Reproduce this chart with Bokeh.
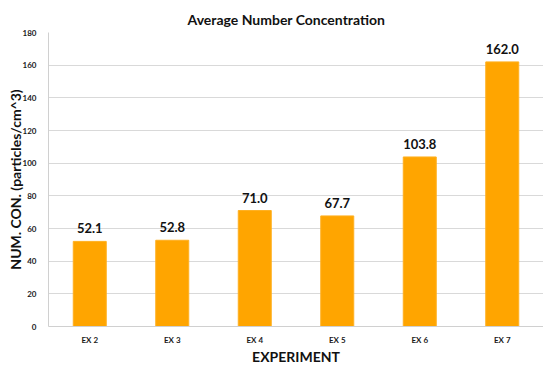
from bokeh.plotting import figure
from bokeh.models import ColumnDataSource, Range1d, FactorRange, LabelSet, SingleIntervalTicker
from bokeh.core.properties import value
from bokeh.embed import file_html
from bokeh.resources import INLINE

experiments = ["EX 2", "EX 3", "EX 4", "EX 5", "EX 6", "EX 7"]
concentration = [52.1, 52.8, 71.0, 67.7, 103.8, 162.0]
labels = ["52.1", "52.8", "71.0", "67.7", "103.8", "162.0"]

src = ColumnDataSource(dict(x=experiments, y=concentration, lab=labels))

FONT = "Lato"
p = figure(width=543, height=367, output_backend="svg", toolbar_location=None,
           x_range=FactorRange(*experiments, range_padding=0),
           y_range=Range1d(0, 180),
           min_border_left=48, min_border_right=0, min_border_top=32, min_border_bottom=0)

p.vbar(x="x", top="y", width=0.4, source=src, fill_color="#FFA500", line_color="#FFB020")
p.add_layout(LabelSet(x="x", y="y", text="lab", source=src, text_align="center",
                      text_baseline="bottom", y_offset=8, text_font=value(FONT),
                      text_font_style="bold", text_font_size="13px", text_color="#111111"))

p.title.text = "Average Number Concentration"
p.title.align = "left"
p.title.offset = 139
p.title.text_font = FONT
p.title.text_font_size = "14px"
p.title.text_font_style = "bold"
p.title.text_color = "#111111"

p.outline_line_color = None
p.xgrid.grid_line_color = None
p.ygrid.grid_line_color = "#d9d9d9"
p.yaxis.ticker = SingleIntervalTicker(interval=20)

for ax in (p.xaxis[0], p.yaxis[0]):
    ax.major_tick_line_color = None
    ax.minor_tick_line_color = None
    ax.axis_line_color = "#d0d0d0"
    ax.major_label_text_font = FONT
    ax.major_label_text_font_style = "bold"
    ax.major_label_text_font_size = "8px"
    ax.major_label_text_color = "#1a1a1a"
    ax.axis_label_text_font = FONT
    ax.axis_label_text_font_style = "bold"
    ax.axis_label_text_font_size = "14px"
    ax.axis_label_text_color = "#111111"

p.yaxis.major_label_standoff = 6
p.xaxis.major_label_standoff = 2
p.xaxis.axis_label = "EXPERIMENT"
p.yaxis.axis_label = "NUM. CON. (particles/cm^3)"
p.xaxis.axis_label_standoff = 0
p.yaxis.axis_label_standoff = -4

open("out.html", "w").write(file_html(p, INLINE))
